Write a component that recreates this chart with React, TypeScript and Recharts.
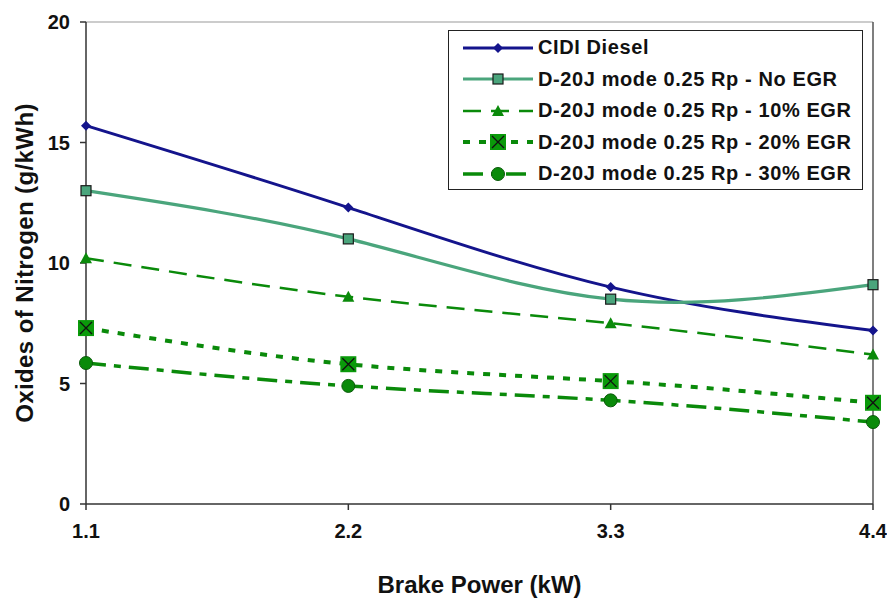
import { LineChart, Line, XAxis, YAxis, ReferenceLine } from "recharts";

const power = [1.1, 2.2, 3.3, 4.4];
const cidiDiesel = [15.7, 12.3, 9.0, 7.2];
const noEgr = [13.0, 11.0, 8.5, 9.1];
const egr10 = [10.2, 8.6, 7.5, 6.2];
const egr20 = [7.3, 5.8, 5.1, 4.2];
const egr30 = [5.85, 4.9, 4.3, 3.4];
const yTicks = [0, 5, 10, 15, 20];

const data = power.map((p, i) => ({
  power: p,
  cidi: cidiDiesel[i],
  noEgr: noEgr[i],
  egr10: egr10[i],
  egr20: egr20[i],
  egr30: egr30[i],
}));

const NAVY = "#14148c";
const SEA = "#4aa57c";
const GREEN = "#0a8a0a";
const FONT = "'Liberation Sans', Arial, sans-serif";

type Kind = "diamond" | "square" | "triangle" | "xsquare" | "circle";

function Marker({ kind, cx, cy }: { kind: Kind; cx: number; cy: number }) {
  if (kind === "diamond")
    return <polygon points={`${cx},${cy - 5} ${cx + 5},${cy} ${cx},${cy + 5} ${cx - 5},${cy}`} fill={NAVY} />;
  if (kind === "square")
    return <rect x={cx - 5} y={cy - 5} width={10} height={10} fill={SEA} stroke="#1a1a1a" strokeWidth={1.2} />;
  if (kind === "triangle")
    return <polygon points={`${cx},${cy - 6} ${cx + 6},${cy + 5} ${cx - 6},${cy + 5}`} fill={GREEN} />;
  if (kind === "xsquare")
    return (
      <g>
        <rect x={cx - 8} y={cy - 8} width={16} height={16} fill="#0a9a0a" />
        <path d={`M${cx - 6},${cy - 6}L${cx + 6},${cy + 6}M${cx + 6},${cy - 6}L${cx - 6},${cy + 6}`} stroke="#111" strokeWidth={1.3} />
      </g>
    );
  return <circle cx={cx} cy={cy} r={6.5} fill={GREEN} stroke="#0a5a0a" strokeWidth={1} />;
}

const series = [
  { key: "cidi", name: "CIDI Diesel", color: NAVY, width: 3, dash: undefined as string | undefined, kind: "diamond" as Kind },
  { key: "noEgr", name: "D-20J mode 0.25 Rp - No EGR", color: SEA, width: 3.2, dash: undefined, kind: "square" as Kind },
  { key: "egr10", name: "D-20J mode 0.25 Rp - 10% EGR", color: GREEN, width: 2.5, dash: "18 10", kind: "triangle" as Kind },
  { key: "egr20", name: "D-20J mode 0.25 Rp - 20% EGR", color: GREEN, width: 4, dash: "7 9", kind: "xsquare" as Kind },
  { key: "egr30", name: "D-20J mode 0.25 Rp - 30% EGR", color: GREEN, width: 3.5, dash: "20 8 7 8", kind: "circle" as Kind },
];

function LegendBox() {
  return (
    <div
      style={{
        position: "absolute",
        left: 448,
        top: 30,
        border: "1.5px solid #222",
        background: "#fff",
        width: 415,
        height: 160,
        boxSizing: "border-box",
        padding: "1px 0 0 12px",
        fontFamily: FONT,
        fontWeight: "bold",
        fontSize: 20,
        letterSpacing: 0.6,
        color: "#111",
      }}
    >
      {series.map((s) => (
        <div key={s.key} style={{ display: "flex", alignItems: "center", height: 31.5, whiteSpace: "nowrap" }}>
          <svg width={76} height={20} style={{ marginRight: 1, flex: "none" }}>
            <line x1={2} y1={10} x2={72} y2={10} stroke={s.color} strokeWidth={s.width} strokeDasharray={s.dash} />
            <Marker kind={s.kind} cx={37} cy={10} />
          </svg>
          <span>{s.name}</span>
        </div>
      ))}
    </div>
  );
}

export default function App() {
  return (
    <div style={{ position: "absolute", left: 0, top: 0, width: 887, height: 601, background: "#fff" }}>
      <LineChart width={887} height={601} data={data} margin={{ top: 22, right: 14, left: 0, bottom: 0 }}>
        <ReferenceLine y={20} stroke="#999" strokeWidth={1} />
        <ReferenceLine x={4.4} stroke="#555" strokeWidth={1.5} />
        <XAxis
          dataKey="power"
          type="number"
          domain={[1.1, 4.4]}
          ticks={power}
          tickFormatter={(v) => v.toFixed(1)}
          height={97}
          stroke="#333"
          strokeWidth={1.5}
          tickSize={6}
          tickMargin={14}
          tick={{ fill: "#111", fontSize: 20, fontWeight: "bold", fontFamily: FONT }}
          label={{ value: "Brake Power (kW)", position: "insideBottom", offset: 8, fill: "#111", fontSize: 24, fontWeight: "bold", fontFamily: FONT }}
        />
        <YAxis
          domain={[0, 20]}
          ticks={yTicks}
          width={86}
          stroke="#333"
          strokeWidth={1.5}
          tickSize={6}
          tickMargin={10}
          tick={{ fill: "#111", fontSize: 20, fontWeight: "bold", fontFamily: FONT }}
          label={{ value: "Oxides of Nitrogen (g/kWh)", angle: -90, position: "insideLeft", offset: 24, style: { textAnchor: "middle", letterSpacing: 0.4 }, fill: "#111", fontSize: 24, fontWeight: "bold", fontFamily: FONT }}
        />
        {series.map((s) => (
          <Line
            key={s.key}
            dataKey={s.key}
            name={s.name}
            type="natural"
            stroke={s.color}
            strokeWidth={s.width}
            strokeDasharray={s.dash}
            isAnimationActive={false}
            dot={(p: any) => <Marker key={`${s.key}-${p.index}`} kind={s.kind} cx={p.cx} cy={p.cy} />}
            activeDot={false}
          />
        ))}
      </LineChart>
      <LegendBox />
    </div>
  );
}
